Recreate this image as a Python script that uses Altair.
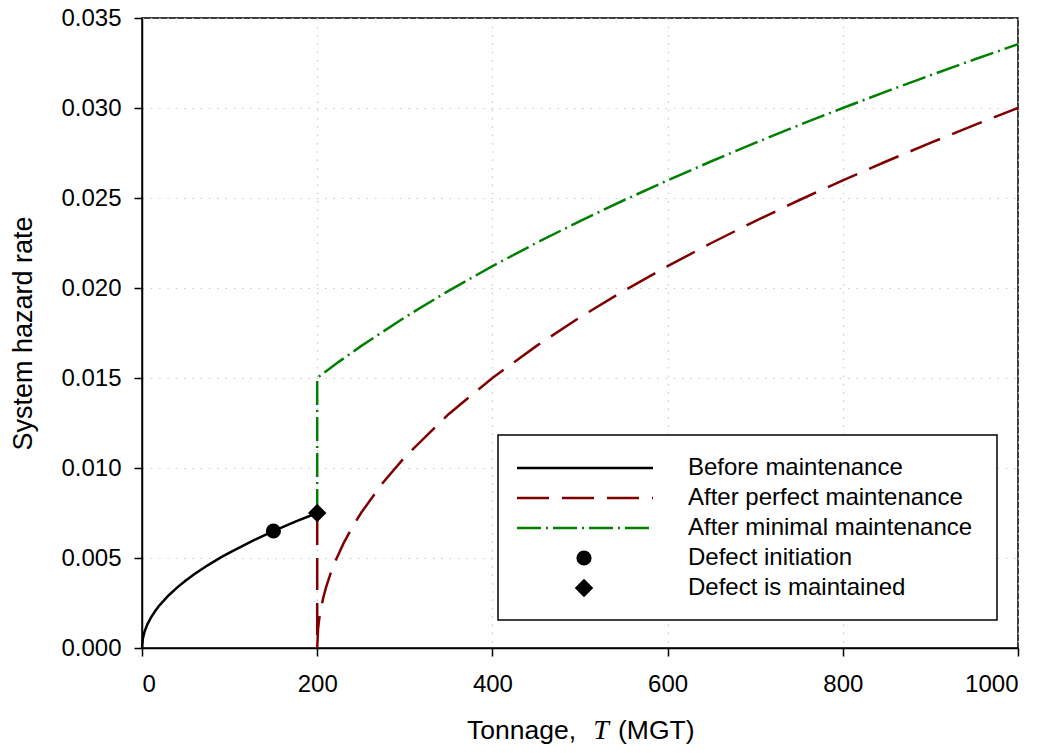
import altair as alt
import pandas as pd

# ---- data ----
before_T = [0, 1, 3, 6, 10, 15, 20, 30, 40, 50, 60, 75, 90, 100, 125, 150, 175, 200]
before_h = [0.0, 0.00053, 0.000918, 0.001299, 0.001677, 0.002054, 0.002372, 0.002905,
            0.003354, 0.00375, 0.004108, 0.004593, 0.005031, 0.005303, 0.005929,
            0.006495, 0.007016, 0.0075]

perfect_T = [200, 200, 201, 202, 204, 207, 210, 215, 220, 230, 240, 250, 275, 300, 350,
             400, 450, 500, 550, 600, 650, 700, 750, 800, 850, 900, 950, 1000]
perfect_h = [0.0075, 0.0, 0.001061, 0.0015, 0.002121, 0.002806, 0.003354, 0.004108,
             0.004743, 0.00581, 0.006708, 0.0075, 0.009186, 0.010607, 0.01299, 0.015,
             0.016771, 0.018371, 0.019843, 0.021213, 0.0225, 0.023717, 0.024875,
             0.025981, 0.027042, 0.028062, 0.029047, 0.03]

minimal_T = [200, 200, 225, 250, 300, 350, 400, 450, 500, 550, 600, 650, 700, 750, 800,
             850, 900, 950, 1000]
minimal_h = [0.0075, 0.015, 0.01591, 0.01677, 0.018371, 0.019843, 0.021213, 0.0225,
             0.023717, 0.024875, 0.025981, 0.027042, 0.028062, 0.029047, 0.03, 0.030923,
             0.03182, 0.032692, 0.033541]

initiation_T = [150]
initiation_h = [0.0065]
maintained_T = [200]
maintained_h = [0.0075]

legend_labels = ["Before maintenance", "After perfect maintenance",
                 "After minimal maintenance", "Defect initiation", "Defect is maintained"]

x_ticks = [0, 200, 400, 600, 800, 1000]
y_ticks = [0.0, 0.005, 0.010, 0.015, 0.020, 0.025, 0.030, 0.035]

# ---- styling ----
FONT = "Liberation Sans"
W, H = 876, 630
RED = "#800000"
GREEN = "#008000"


def frame(Ts, hs):
    return pd.DataFrame({"T": Ts, "h": hs, "o": list(range(len(Ts)))})


xs = alt.Scale(domain=[0, 1000], nice=False)
ys = alt.Scale(domain=[0, 0.035], nice=False)

x_enc = alt.X("T:Q", scale=xs, axis=alt.Axis(
    values=x_ticks, format="d", title=None, grid=True,
    gridDash=[1.5, 6.8], gridColor="#c8c8c8", gridWidth=1.2,
    labelFontSize=24, labelPadding=16, tickSize=8))
y_enc = alt.Y("h:Q", scale=ys, axis=alt.Axis(
    values=y_ticks, format=".3f", title="System hazard rate", grid=True,
    gridDash=[1.5, 6.8], gridColor="#c8c8c8", gridWidth=1.2,
    labelFontSize=24, labelPadding=13, tickSize=8,
    titleFontSize=27, titleFontWeight="normal", titlePadding=23))

base_line = alt.Chart(frame(before_T, before_h)).mark_line(
    color="black", strokeWidth=2.5).encode(x=x_enc, y=y_enc, order="o:Q")

perfect_line = alt.Chart(frame(perfect_T, perfect_h)).mark_line(
    color=RED, strokeWidth=2.5, strokeDash=[32, 13]).encode(
    x="T:Q", y="h:Q", order="o:Q")

minimal_line = alt.Chart(frame(minimal_T, minimal_h)).mark_line(
    color=GREEN, strokeWidth=2.5, strokeDash=[24, 5, 2, 5]).encode(
    x="T:Q", y="h:Q", order="o:Q")

init_pts = alt.Chart(frame(initiation_T, initiation_h)).mark_point(
    shape="circle", filled=True, color="black", size=230, opacity=1).encode(
    x="T:Q", y="h:Q")

maint_pts = alt.Chart(frame(maintained_T, maintained_h)).mark_point(
    shape="diamond", filled=True, color="black", size=340, opacity=1).encode(
    x="T:Q", y="h:Q")

# ---- manual legend (pixel layout) ----
one = alt.Data(values=[{}])
LX0, LX1, LY0, LY1 = 356, 855, 417, 602
rows = [450, 480, 510, 540, 570]
SX0, SX1, SCX, TX = 375, 511, 442, 546

legend_layers = [
    alt.Chart(one).mark_rect(fill="white", stroke="black", strokeWidth=1.5).encode(
        x=alt.value(LX0), x2=alt.value(LX1), y=alt.value(LY0), y2=alt.value(LY1)),
    alt.Chart(one).mark_rule(color="black", strokeWidth=2.5).encode(
        x=alt.value(SX0), x2=alt.value(SX1), y=alt.value(rows[0])),
    alt.Chart(one).mark_rule(color=RED, strokeWidth=2.5, strokeDash=[32, 13]).encode(
        x=alt.value(SX0), x2=alt.value(SX1), y=alt.value(rows[1])),
    alt.Chart(one).mark_rule(color=GREEN, strokeWidth=2.5, strokeDash=[24, 5, 2, 5]).encode(
        x=alt.value(SX0), x2=alt.value(SX1), y=alt.value(rows[2])),
    alt.Chart(one).mark_point(shape="circle", filled=True, color="black", size=230,
                              opacity=1).encode(x=alt.value(SCX), y=alt.value(rows[3])),
    alt.Chart(one).mark_point(shape="diamond", filled=True, color="black", size=340,
                              opacity=1).encode(x=alt.value(SCX), y=alt.value(rows[4])),
]
for lbl, ry in zip(legend_labels, rows):
    legend_layers.append(
        alt.Chart(one).mark_text(text=lbl, align="left", baseline="middle",
                                 font=FONT, fontSize=24, color="black").encode(
            x=alt.value(TX), y=alt.value(ry)))

# ---- x-axis title with italic T ----
TITLE_Y = 721
title_layers = [
    alt.Chart(one).mark_text(text="Tonnage,", align="right", baseline="alphabetic",
                             font=FONT, fontSize=26.5, color="black").encode(
        x=alt.value(434), y=alt.value(TITLE_Y)),
    alt.Chart(one).mark_text(text="T", align="center", baseline="alphabetic",
                             font="Liberation Serif", fontStyle="italic", fontSize=28,
                             color="black").encode(
        x=alt.value(459), y=alt.value(TITLE_Y)),
    alt.Chart(one).mark_text(text="(MGT)", align="left", baseline="alphabetic",
                             font=FONT, fontSize=26.5, color="black").encode(
        x=alt.value(476), y=alt.value(TITLE_Y)),
]

chart = alt.layer(base_line, perfect_line, minimal_line, init_pts, maint_pts,
                  *legend_layers, *title_layers).properties(
    width=W, height=H,
    autosize=alt.AutoSizeParams(type="none"),
    padding={"left": 134, "top": 10, "right": 22, "bottom": 97},
    background="white",
).configure_view(stroke="black", strokeWidth=1.5).configure_axis(
    domainColor="black", domainWidth=1.5, tickColor="black", tickWidth=1.5,
    labelFont=FONT, titleFont=FONT, labelColor="black", titleColor="black",
)

chart.save("out.html", embed_options={"renderer": "svg", "actions": False})
